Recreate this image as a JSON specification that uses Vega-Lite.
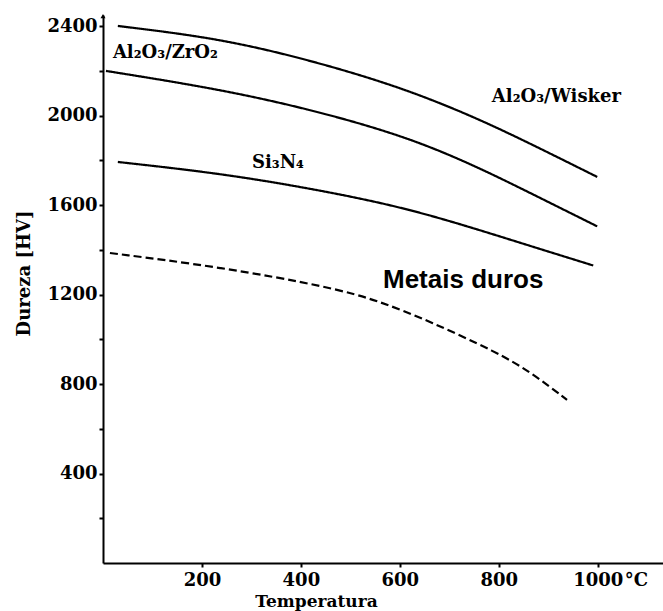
{
  "$schema": "https://vega.github.io/schema/vega-lite/v6.json",
  "autosize": {"type": "none"},
  "width": 560,
  "height": 548,
  "padding": {"left": 103, "top": 15, "right": 0, "bottom": 48},
  "background": "white",
  "config": {"view": {"stroke": null}},
  "datasets": {
    "curves": [
      {"serie": "Al2O3/Wisker", "T": 30, "HV": 2401},
      {"serie": "Al2O3/Wisker", "T": 237, "HV": 2345},
      {"serie": "Al2O3/Wisker", "T": 418, "HV": 2248},
      {"serie": "Al2O3/Wisker", "T": 560, "HV": 2155},
      {"serie": "Al2O3/Wisker", "T": 661, "HV": 2075},
      {"serie": "Al2O3/Wisker", "T": 762, "HV": 1982},
      {"serie": "Al2O3/Wisker", "T": 863, "HV": 1876},
      {"serie": "Al2O3/Wisker", "T": 999, "HV": 1726},
      {"serie": "Al2O3/ZrO2", "T": 6, "HV": 2200},
      {"serie": "Al2O3/ZrO2", "T": 237, "HV": 2118},
      {"serie": "Al2O3/ZrO2", "T": 418, "HV": 2028},
      {"serie": "Al2O3/ZrO2", "T": 560, "HV": 1940},
      {"serie": "Al2O3/ZrO2", "T": 661, "HV": 1862},
      {"serie": "Al2O3/ZrO2", "T": 762, "HV": 1765},
      {"serie": "Al2O3/ZrO2", "T": 863, "HV": 1655},
      {"serie": "Al2O3/ZrO2", "T": 999, "HV": 1505},
      {"serie": "Si3N4", "T": 30, "HV": 1793},
      {"serie": "Si3N4", "T": 237, "HV": 1742},
      {"serie": "Si3N4", "T": 418, "HV": 1675},
      {"serie": "Si3N4", "T": 560, "HV": 1612},
      {"serie": "Si3N4", "T": 661, "HV": 1555},
      {"serie": "Si3N4", "T": 762, "HV": 1488},
      {"serie": "Si3N4", "T": 863, "HV": 1418},
      {"serie": "Si3N4", "T": 991, "HV": 1330},
      {"serie": "Metais duros", "T": 14, "HV": 1386},
      {"serie": "Metais duros", "T": 237, "HV": 1323},
      {"serie": "Metais duros", "T": 459, "HV": 1234},
      {"serie": "Metais duros", "T": 560, "HV": 1170},
      {"serie": "Metais duros", "T": 661, "HV": 1080},
      {"serie": "Metais duros", "T": 796, "HV": 942},
      {"serie": "Metais duros", "T": 863, "HV": 856},
      {"serie": "Metais duros", "T": 938, "HV": 729}
    ],
    "serifLabels": [
      {"label": "Al₂O₃/ZrO₂", "T": 20, "HV": 2258},
      {"label": "Al₂O₃/Wisker", "T": 786, "HV": 2061},
      {"label": "Si₃N₄", "T": 301, "HV": 1766}
    ],
    "sansLabels": [
      {"label": "Metais duros", "T": 566, "HV": 1229}
    ],
    "unit": [
      {"label": "°C", "T": 1000, "HV": 0}
    ],
    "arrow": [
      {"T": 0, "HV": 2445}
    ]
  },
  "layer": [
    {
      "data": {"name": "curves"},
      "mark": {"type": "line", "interpolate": "basis", "color": "black", "strokeWidth": 2.2},
      "encoding": {
        "x": {
          "field": "T", "type": "quantitative",
          "scale": {"domain": [0, 1132], "nice": false, "zero": false},
          "axis": {
            "values": [200, 400, 600, 800, 1000],
            "format": "d",
            "title": "Temperatura",
            "titleFont": "DejaVu Serif", "titleFontWeight": "bold", "titleFontSize": 17, "titleColor": "black",
            "titleAnchor": "start", "titleAlign": "center", "titleX": 213, "titleY": 30, "titleBaseline": "top",
            "labelFont": "DejaVu Serif", "labelFontWeight": "bold", "labelFontSize": 18, "labelColor": "black",
            "labelPadding": 4, "tickSize": 4, "tickColor": "black", "tickWidth": 2,
            "domainColor": "black", "domainWidth": 2, "grid": false, "labelFlush": false
          }
        },
        "y": {
          "field": "HV", "type": "quantitative",
          "scale": {"domain": [0, 2450], "nice": false},
          "axis": {
            "values": [200, 400, 600, 800, 1000, 1200, 1400, 1600, 1800, 2000, 2200, 2400],
            "labelExpr": "datum.value % 400 == 0 ? datum.label : ''",
            "format": "d",
            "title": "Dureza [HV]",
            "titleFont": "DejaVu Serif", "titleFontWeight": "bold", "titleFontSize": 18, "titleColor": "black",
            "titleAnchor": "start", "titleAlign": "center", "titleY": 258, "titleX": -70,
            "labelFont": "DejaVu Serif", "labelFontWeight": "bold", "labelFontSize": 18, "labelColor": "black",
            "labelPadding": 2, "tickSize": 4, "tickColor": "black", "tickWidth": 2,
            "domainColor": "black", "domainWidth": 2, "grid": false
          }
        },
        "detail": {"field": "serie"},
        "strokeDash": {
          "field": "serie", "type": "nominal",
          "scale": {"domain": ["Al2O3/Wisker", "Al2O3/ZrO2", "Si3N4", "Metais duros"], "range": [[1, 0], [1, 0], [1, 0], [8, 4]]},
          "legend": null
        }
      }
    },
    {
      "data": {"name": "serifLabels"},
      "mark": {"type": "text", "font": "DejaVu Serif", "fontWeight": "bold", "fontSize": 18, "align": "left", "baseline": "alphabetic", "color": "black"},
      "encoding": {
        "x": {"field": "T", "type": "quantitative"},
        "y": {"field": "HV", "type": "quantitative"},
        "text": {"field": "label"}
      }
    },
    {
      "data": {"name": "sansLabels"},
      "mark": {"type": "text", "font": "Liberation Sans", "fontWeight": "bold", "fontSize": 26, "align": "left", "baseline": "alphabetic", "color": "black"},
      "encoding": {
        "x": {"field": "T", "type": "quantitative"},
        "y": {"field": "HV", "type": "quantitative"},
        "text": {"field": "label"}
      }
    },
    {
      "data": {"name": "unit"},
      "mark": {"type": "text", "font": "DejaVu Serif", "fontWeight": "bold", "fontSize": 18, "align": "left", "baseline": "alphabetic", "color": "black", "dx": 27, "dy": 23, "clip": false},
      "encoding": {
        "x": {"field": "T", "type": "quantitative"},
        "y": {"field": "HV", "type": "quantitative"},
        "text": {"field": "label"}
      }
    },
    {
      "data": {"name": "arrow"},
      "mark": {"type": "point", "shape": "triangle-up", "filled": true, "color": "black", "size": 25, "opacity": 1},
      "encoding": {
        "x": {"field": "T", "type": "quantitative"},
        "y": {"field": "HV", "type": "quantitative"}
      }
    }
  ]
}
